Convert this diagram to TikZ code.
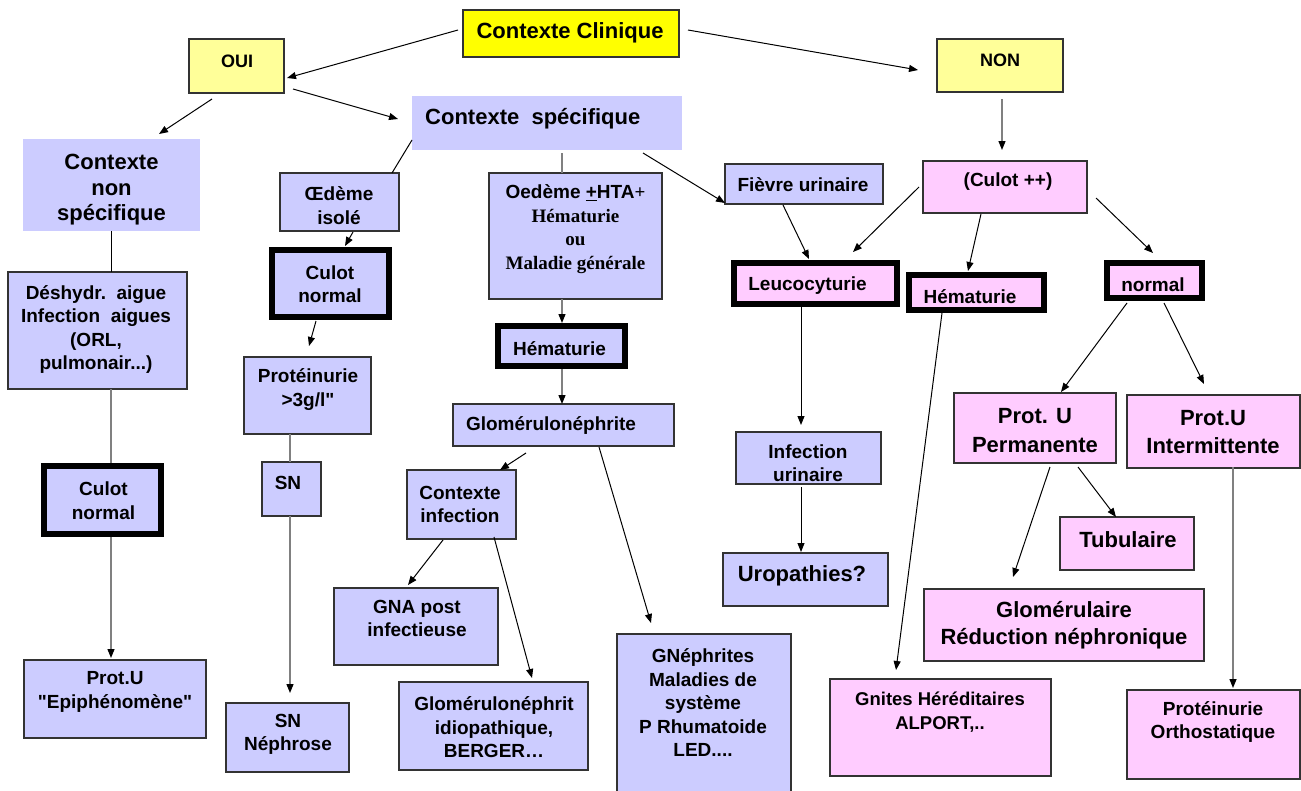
\documentclass[tikz,border=0pt]{standalone}
\usepackage{fontspec}
\setmainfont{Liberation Sans}[Ligatures=TeXOff]
\newfontfamily\seriffont{Liberation Serif}
\usetikzlibrary{arrows.meta,calc,fit}
\definecolor{lav}{HTML}{CCCCFF}
\definecolor{pnk}{HTML}{FFCCFF}
\definecolor{yel}{HTML}{FFFF00}
\definecolor{lyel}{HTML}{FFFF99}
\definecolor{edge}{HTML}{333333}
\definecolor{lgray}{HTML}{808080}
\tikzset{
 bx/.style={draw=edge, line width=1.2pt, inner sep=0pt, outer sep=0pt},
 nb/.style={inner sep=0pt, outer sep=0pt},
 thk/.style={draw=black, line width=6.5pt, inner sep=0pt, outer sep=0pt},
 tx/.style={inner sep=0pt, align=center, font=\fontsize{19}{23.5}\selectfont\bfseries},
 tl/.style={inner sep=0pt, align=center, font=\fontsize{22}{27}\selectfont\bfseries},
 tm/.style={inner sep=0pt, align=center, font=\fontsize{18}{22}\selectfont\bfseries},
 arr/.style={line width=1pt, -{Triangle[length=9pt,width=7pt]}},
 garr/.style={draw=lgray, line width=1.3pt, -{Triangle[length=9pt,width=7pt,color=black]}},
 ln/.style={line width=1pt},
 gln/.style={draw=lgray, line width=1.3pt},
}
\begin{document}
\begin{tikzpicture}[x=1pt,y=-1pt]
\path[use as bounding box, fill=white] (0,0) rectangle (1301,790);
\clip (0,0) rectangle (1301,790);
% boxes
\node[bx, fill=yel, fit={(463,10)(679,57)}] (clin) {};
\node[bx, fill=lyel, fit={(189,39)(284,93)}] (oui) {};
\node[bx, fill=lyel, fit={(937,39)(1063,92)}] (non) {};
\node[nb, fill=lav, fit={(23,139)(200,231)}] (cns) {};
\node[nb, fill=lav, fit={(412,96)(682,150)}] (cs) {};
\node[bx, fill=lav, fit={(280,173)(399,231)}] (oed) {};
\node[thk, fill=lav, fit={(272,250)(389,317)}] (cn1) {};
\node[bx, fill=lav, fit={(244,357)(371,434)}] (prot) {};
\node[bx, fill=lav, fit={(262,462)(321,516)}] (sn) {};
\node[bx, fill=lav, fit={(226,703)(349,772)}] (snn) {};
\node[bx, fill=lav, fit={(8,272)(187,389)}] (desh) {};
\node[thk, fill=lav, fit={(44,466)(161,534)}] (cn2) {};
\node[bx, fill=lav, fit={(24,660)(206,738)}] (epi) {};
\node[bx, fill=lav, fit={(489,173)(662,299)}] (ohta) {};
\node[thk, fill=lav, fit={(498,326)(625,366)}] (hem1) {};
\node[bx, fill=lav, fit={(453,404)(674,446)}] (glo) {};
\node[bx, fill=lav, fit={(407,470)(516,539)}] (cinf) {};
\node[bx, fill=lav, fit={(334,588)(498,665)}] (gna) {};
\node[bx, fill=lav, fit={(399,682)(588,770)}] (glidio) {};
\node[bx, fill=lav, fit={(617,634)(791,800)}] (gneph) {};
\node[bx, fill=lav, fit={(725,164)(883,204)}] (fievre) {};
\node[thk, fill=pnk, fit={(734,263)(897,304)}] (leuco) {};
\node[bx, fill=lav, fit={(736,432)(881,484)}] (infu) {};
\node[bx, fill=lav, fit={(723,553)(888,606)}] (uro) {};
\node[bx, fill=pnk, fit={(923,161)(1087,213)}] (cpp) {};
\node[thk, fill=pnk, fit={(909,275)(1044,310)}] (hem2) {};
\node[thk, fill=pnk, fit={(1107,263)(1202,298)}] (normal) {};
\node[bx, fill=pnk, fit={(954,393)(1116,463)}] (perm) {};
\node[bx, fill=pnk, fit={(1127,395)(1300,468)}] (interm) {};
\node[bx, fill=pnk, fit={(1060,517)(1194,570)}] (tub) {};
\node[bx, fill=pnk, fit={(924,589)(1204,661)}] (glom) {};
\node[bx, fill=pnk, fit={(830,679)(1051,776)}] (gnites) {};
\node[bx, fill=pnk, fit={(1127,690)(1300,779)}] (ortho) {};
% connectors
\draw[arr] ($(clin)+(-113,-3.5)$) -- ($(oui)+(50.5,12)$);
\draw[arr] ($(clin)+(117,-3.5)$) -- ($(non)+(-82,4.5)$);
\draw[arr] ($(oui)+(56.5,23)$) -- ($(cs)+(-149,-4)$);
\draw[arr] ($(oui)+(-24.5,33)$) -- ($(cns)+(47.5,-51)$);
\draw[ln] ($(cs)+(-135,17)$) -- ($(oed)+(52.5,-29)$);
\draw[arr] ($(oed)+(13.5,30)$) -- ($(cn1)+(14.5,-37.5)$);
\draw[arr] ($(cn1)+(-14.5,37.5)$) -- ($(prot)+(1.5,-49.5)$);
\draw[gln] ($(prot)+(-17.5,38.5)$) -- ($(sn)+(-1.5,-27)$);
\draw[garr] ($(sn)+(-1.5,27)$) -- ($(snn)+(2.5,-44.5)$);
\draw[ln] ($(cns)+(-0.5,46)$) -- ($(desh)+(13.5,-58.5)$);
\draw[gln] ($(desh)+(13.5,58.5)$) -- ($(cn2)+(8.5,-37)$);
\draw[garr] ($(cn2)+(8.5,37)$) -- ($(epi)+(-4,-41)$);
\draw[gln] ($(cs)+(15,30)$) -- ($(ohta)+(-13.5,-63)$);
\draw[arr] ($(cs)+(96,30)$) -- ($(fievre)+(-79,19)$);
\draw[garr] ($(ohta)+(-13.5,63)$) -- ($(hem1)+(0.5,-23)$);
\draw[garr] ($(hem1)+(0.5,23)$) -- ($(glo)+(-1.5,-21)$);
\draw[arr] ($(glo)+(-37.5,28)$) -- ($(cinf)+(38.5,-34.5)$);
\draw[arr] ($(glo)+(35.5,22)$) -- ($(gneph)+(-53,-94)$);
\draw[arr] ($(cinf)+(-18.5,35.5)$) -- ($(gna)+(-8,-41.5)$);
\draw[arr] ($(cinf)+(32.5,32.5)$) -- ($(glidio)+(38.5,-48)$);
\draw[arr] ($(fievre)+(-21,21)$) -- ($(leuco)+(-6.5,-24.5)$);
\draw[arr] ($(cpp)+(-86,0)$) -- ($(leuco)+(37.5,-31.5)$);
\draw[arr] ($(cpp)+(-24,27)$) -- ($(hem2)+(-8.5,-21.5)$);
\draw[arr] ($(cpp)+(91,11)$) -- ($(normal)+(-1.5,-27.5)$);
\draw[garr] ($(non)+(2,33.5)$) -- ($(cpp)+(-3,-37)$);
\draw[arr] ($(leuco)+(-14.5,23.5)$) -- ($(infu)+(-7.5,-33)$);
\draw[arr] ($(infu)+(-7.5,29)$) -- ($(uro)+(-4.5,-27.5)$);
\draw[arr] ($(hem2)+(-34.5,20.5)$) -- ($(gnites)+(-44.5,-57.5)$);
\draw[arr] ($(normal)+(-27.5,22.5)$) -- ($(perm)+(26,-36)$);
\draw[arr] ($(normal)+(9.5,22.5)$) -- ($(interm)+(-9.5,-47.5)$);
\draw[arr] ($(perm)+(15,39)$) -- ($(glom)+(-51,-48)$);
\draw[arr] ($(perm)+(43,39)$) -- ($(tub)+(-11,-26.5)$);
\draw[garr] ($(interm)+(19.5,35.5)$) -- ($(ortho)+(19.5,-46.5)$);
% texts
\node[tl] (t-clin) at (570,33) {Contexte Clinique};
\node[tm] (t-oui) at (237,61) {OUI};
\node[tm] (t-non) at (1000,60) {NON};
\node[tl, font=\fontsize{22}{25.5}\selectfont\bfseries] (t-cns) at (111.5,190) {Contexte\\non\\spécifique};
\node[tl, anchor=west] (t-cs) at (425,119) {Contexte\ \ spécifique};
\node[tx] (t-oed) at (339,205.5) {Œdème\\isolé};
\node[tx] (t-cn1) at (330,284) {Culot\\normal};
\node[tx] (t-prot) at (308,389.5) {Protéinurie\\>3g/l"};
\node[tx] (t-sn) at (288,483) {SN};
\node[tx] (t-snn) at (288,734.5) {SN\\Néphrose};
\node[tx] (t-desh) at (96,329.5) {Déshydr.\ \ aigue\\Infection\ \ aigues\\(ORL,\\pulmonair...)};
\node[tx] (t-cn2) at (103.5,500.5) {Culot\\normal};
\node[tx] (t-epi) at (115,692) {Prot.U\\"Epiphénomène"};
\node[tx] (t-ohta) at (575.5,229) {Oedème \underline{+}HTA{\seriffont +}\\{\seriffont Hématurie}\\{\seriffont ou}\\{\seriffont Maladie générale}};
\node[tx] (t-hem1) at (559.5,349) {Hématurie};
\node[tx] (t-glo) at (551,425) {Glomérulonéphrite};
\node[tx] (t-cinf) at (460,504.5) {Contexte\\infection};
\node[tx] (t-gna) at (417,618.5) {GNA post\\infectieuse};
\node[tx] (t-glidio) at (494,727.5) {Glomérulonéphrit\\idiopathique,\\BERGER…};
\node[tx] (t-gneph) at (703,703) {GNéphrites\\Maladies de\\système\\P Rhumatoide\\LED....};
\node[tx] (t-fievre) at (803,185) {Fièvre urinaire};
\node[tx] (t-leuco) at (807.5,286) {Leucocyturie};
\node[tx] (t-hem2) at (970,297) {Hématurie};
\node[tx] (t-normal) at (1153,285) {normal};
\node[tx] (t-cpp) at (1008,182) {(Culot ++)};
\node[tx] (t-infu) at (808,463) {Infection\\urinaire};
\node[tl] (t-uro) at (802,576) {Uropathies?};
\node[tl, font=\fontsize{22}{29}\selectfont\bfseries] (t-perm) at (1035,430.5) {Prot. U\\Permanente};
\node[tl, font=\fontsize{22}{28}\selectfont\bfseries] (t-interm) at (1213,432) {Prot.U\\Intermittente};
\node[tl] (t-tub) at (1128,540) {Tubulaire};
\node[tl] (t-glom) at (1064,625.5) {Glomérulaire\\Réduction néphronique};
\node[tx, font=\fontsize{18.5}{24}\selectfont\bfseries] (t-gnites) at (940,712.5) {Gnites Héréditaires\\ALPORT,..};
\node[tx] (t-ortho) at (1213,722) {Protéinurie\\Orthostatique};
\end{tikzpicture}
\end{document}
